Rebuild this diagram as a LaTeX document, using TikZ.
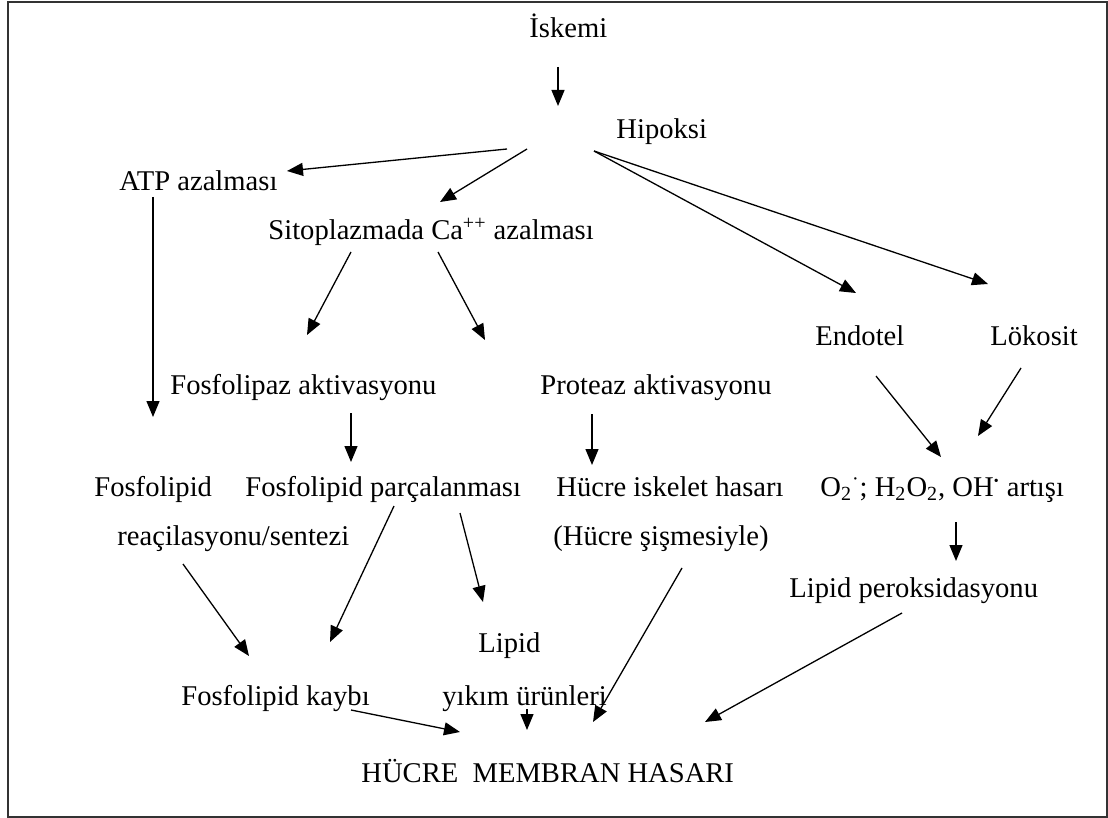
\documentclass[tikz,border=0pt]{standalone}
\usepackage{fontspec}
\setmainfont{Liberation Serif}
\usetikzlibrary{arrows.meta}
\usetikzlibrary{calc}

\tikzset{
    lbl/.style={anchor=base west, inner sep=0pt},
    arr/.style={-{Triangle[length=8pt,width=6.5pt]}, line width=0.65pt},
}

\begin{document}
\begin{tikzpicture}[
        x=0.5pt, y=-0.5pt,
        font=\fontsize{14.3pt}{17pt}\selectfont,
    ]
    \useasboundingbox (0,0) rectangle (1108,818);
    \draw[line width=1pt, black!80] (7.5,2) rectangle (1107,816.5);

    % labels, placed at their baselines
    \node[lbl] (isk)    at (529,38)  {İskemi};
    \node[lbl] (hip)    at (616,139) {Hipoksi};
    \node[lbl] (atp)    at (119,191) {ATP azalması};
    \node[lbl] (sit)    at (268,240) {Sitoplazmada Ca\textsuperscript{++} azalması};
    \node[lbl] (endo)   at (815,345) {Endotel};
    \node[lbl] (lok)    at (990,345) {Lökosit};
    \node[lbl] (fosakt) at (170,394) {Fosfolipaz aktivasyonu};
    \node[lbl] (prot)   at (540,394) {Proteaz aktivasyonu};
    \node[lbl] (fos1)   at (94,496)  {Fosfolipid};
    \node[lbl] (fospar) at (245,496) {Fosfolipid parçalanması};
    \node[lbl] (hucisk) at (556,496) {Hücre iskelet hasarı};
    \node[lbl] (oxy)    at (820,496) {O\textsubscript{2}\textsuperscript{·}; H\textsubscript{2}O\textsubscript{2}, OH\textsuperscript{\scriptsize\textbullet} artışı};
    \node[lbl] (reac)   at (117,545) {reaçilasyonu/sentezi};
    \node[lbl] (sism)   at (553,545) {(Hücre şişmesiyle)};
    \node[lbl] (lpx)    at (789,597) {Lipid peroksidasyonu};
    \node[lbl] (lipid)  at (478,652) {Lipid};
    \node[lbl] (kayb)   at (181,705) {Fosfolipid kaybı};
    \node[lbl] (yik)    at (442,705) {yıkım ürünleri};
    \node[lbl] (hmh)    at (361,782) {HÜCRE\ \ MEMBRAN HASARI};

    % connectors
    \draw[arr] ($(isk.base west)+(29,29)$) -- ($(hip.base west)+(-58,-33)$);
    \draw[arr] ($(hip.base west)+(-109,10)$) -- ($(atp.base west)+(168,-20)$);
    \draw[arr] ($(hip.base west)+(-89,10)$) -- ($(sit.base west)+(172,-38)$);
    \draw[arr] ($(hip.base west)+(-22,12)$) -- ($(endo.base west)+(41,-52)$);
    \draw[arr] ($(hip.base west)+(-22,12)$) -- ($(lok.base west)+(-2,-61)$);

    \draw[arr] ($(atp.base west)+(34,6)$) -- ($(fos1.base west)+(59,-79)$);
    \draw[arr] ($(sit.base west)+(83,12)$) -- ($(fosakt.base west)+(137,-59)$);
    \draw[arr] ($(sit.base west)+(170,12)$) -- ($(prot.base west)+(-55,-54)$);
    \draw[arr] ($(fosakt.base west)+(181,19)$) -- ($(fospar.base west)+(106,-34)$);
    \draw[arr] ($(prot.base west)+(52,20)$) -- ($(hucisk.base west)+(36,-31)$);
    \draw[arr] ($(endo.base west)+(61,31)$) -- ($(oxy.base west)+(121,-39)$);
    \draw[arr] ($(lok.base west)+(31,23)$) -- ($(oxy.base west)+(158,-60)$);
    \draw[arr] ($(oxy.base west)+(136,26)$) -- ($(lpx.base west)+(167,-36)$);

    \draw[arr] ($(reac.base west)+(66,19)$) -- ($(kayb.base west)+(68,-49)$);
    \draw[arr] ($(fospar.base west)+(149,10)$) -- ($(kayb.base west)+(149,-63)$);
    \draw[arr] ($(fospar.base west)+(215,17)$) -- ($(lipid.base west)+(5,-50)$);
    \draw[arr] ($(sism.base west)+(129,23)$) -- ($(hmh.base west)+(232,-60)$);
    \draw[arr] ($(lpx.base west)+(113,16)$) -- ($(hmh.base west)+(344,-60)$);
    \draw[arr] ($(kayb.base west)+(170,5)$) -- ($(hmh.base west)+(99,-50)$);
    \draw[arr] ($(yik.base west)+(85,4)$) -- ($(hmh.base west)+(166,-52)$);
\end{tikzpicture}
\end{document}
